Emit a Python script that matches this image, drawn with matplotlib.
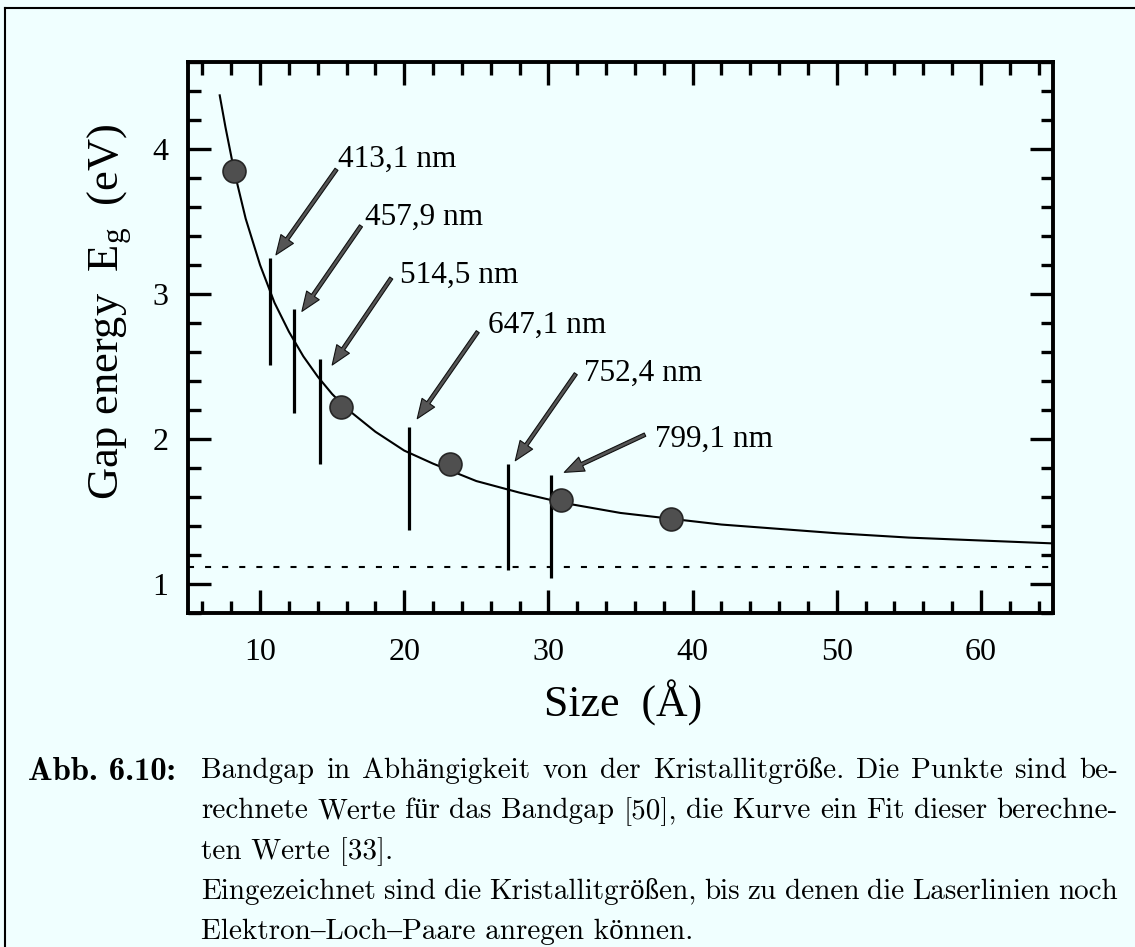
# Band gap vs. crystallite size, with the laser-line cut-offs marked
import matplotlib.pyplot as plt
from matplotlib.lines import Line2D
from matplotlib.ticker import MultipleLocator

# --- data ---
# calculated band gap points
size_pts = [8.2, 15.6, 23.2, 30.9, 38.5]
eg_pts = [3.85, 2.22, 1.83, 1.58, 1.45]

# fit curve through the calculated points
fit_size = [7.2, 7.6, 8.2, 9, 10, 11, 12, 13, 14, 15, 16, 18, 20, 22, 25,
            28, 31, 35, 38.5, 42, 46, 50, 55, 60, 65]
fit_eg = [4.37, 4.15, 3.85, 3.52, 3.20, 2.94, 2.74, 2.57, 2.43, 2.31, 2.21,
          2.05, 1.92, 1.83, 1.71, 1.63, 1.56, 1.49, 1.45, 1.41, 1.38, 1.35,
          1.32, 1.30, 1.28]

# bulk gap (dashed line)
eg_bulk = 1.12

# laser lines: crystallite size limit and vertical marker extent
laser_labels = ["413,1 nm", "457,9 nm", "514,5 nm", "647,1 nm", "752,4 nm", "799,1 nm"]
laser_size = [10.7, 12.35, 14.15, 20.3, 27.2, 30.2]
line_top = [3.25, 2.90, 2.55, 2.08, 1.83, 1.75]
line_bottom = [2.51, 2.18, 1.83, 1.37, 1.10, 1.04]

# arrows (tail -> tip) and label anchors
arrow_tail_x = [15.3, 17.0, 19.1, 25.1, 31.9, 36.7]
arrow_tail_y = [3.86, 3.47, 3.11, 2.74, 2.45, 2.03]
arrow_tip_x = [11.1, 12.9, 15.0, 20.9, 27.7, 31.1]
arrow_tip_y = [3.27, 2.88, 2.51, 2.14, 1.85, 1.77]
label_x = [15.4, 17.3, 19.7, 25.8, 32.5, 37.4]
label_y = [3.95, 3.55, 3.15, 2.81, 2.48, 2.02]

caption_head = "Abb. 6.10:"
caption_lines = [
    "Bandgap in Abhängigkeit von der Kristallitgröße. Die Punkte sind be-",
    "rechnete Werte für das Bandgap [50], die Kurve ein Fit dieser berechne-",
    "ten Werte [33].",
    "Eingezeichnet sind die Kristallitgrößen, bis zu denen die Laserlinien noch",
    "Elektron–Loch–Paare anregen können.",
]
caption_justify = [True, True, False, True, False]

# --- style ---
BG = "#f0ffff"
plt.rcParams.update({
    "font.family": ["Liberation Serif", "DejaVu Serif"],
    "mathtext.fontset": "custom",
    "mathtext.rm": "Liberation Serif",
    "mathtext.it": "Liberation Serif:italic",
})

W, H = 1135, 947
fig = plt.figure(figsize=(W / 100, H / 100), dpi=100, facecolor=BG)
ax = fig.add_axes([188 / W, 1 - 613 / H, 865 / W, 551 / H], facecolor=BG)

# fit curve, points, bulk gap
ax.plot(fit_size, fit_eg, color="black", lw=1.5, zorder=3)
ax.plot(size_pts, eg_pts, "o", ms=16.5, mfc="#4f4f4f", mec="#262626", mew=1.2, zorder=4)
ax.axhline(eg_bulk, color="black", lw=1.5, dashes=(2.9, 5.3), zorder=2)

# laser markers, arrows, labels
ax.vlines(laser_size, line_bottom, line_top, color="black", lw=2.3, zorder=3)
for i in range(len(laser_labels)):
    ax.annotate("", xy=(arrow_tip_x[i], arrow_tip_y[i]),
                xytext=(arrow_tail_x[i], arrow_tail_y[i]),
                arrowprops=dict(facecolor="#555555", edgecolor="#111111", lw=0.8,
                                width=2.6, headwidth=11, headlength=14, shrink=0),
                zorder=5)
    ax.text(label_x[i], label_y[i], laser_labels[i], fontsize=22.5,
            ha="left", va="center_baseline")

ax.set_xlim(5, 65)
ax.set_ylim(0.8, 4.6)
ax.xaxis.set_major_locator(MultipleLocator(10))
ax.xaxis.set_minor_locator(MultipleLocator(2))
ax.yaxis.set_major_locator(MultipleLocator(1))
ax.yaxis.set_minor_locator(MultipleLocator(0.2))
ax.tick_params(which="both", direction="in", top=True, right=True, labelsize=23)
ax.tick_params(which="major", length=16.5, width=2.4)
ax.tick_params(which="minor", length=9, width=2.4)
ax.tick_params(axis="x", pad=18)
ax.tick_params(axis="y", pad=14)
for sp in ax.spines.values():
    sp.set_linewidth(2.8)

fig.text(623 / W, 1 - 703 / H, "Size  (Å)", fontsize=31.5, ha="center", va="center")
fig.text(110 / W, 1 - 312 / H, r"Gap energy  E$_\mathrm{g}$  (eV)", fontsize=32,
         rotation=90, ha="center", va="center")

# outer frame (top and left edge of the scanned page box)
fig.add_artist(Line2D([5 / W, 1], [1 - 8 / H, 1 - 8 / H], color="black", lw=1.5))
fig.add_artist(Line2D([5 / W, 5 / W], [1 - 8 / H, 0], color="black", lw=1.5))

# --- caption ---
cap_font = ["cmr10", "Liberation Serif"]
fig.text(28 / W, 1 - 768 / H, caption_head, fontsize=23.5, family=["cmb10", "Liberation Serif"],
         ha="left", va="center_baseline")
renderer = fig.canvas.get_renderer()
left_px, right_px = 201, 1118
for k, line in enumerate(caption_lines):
    y = 1 - (768 + 40.3 * k) / H
    if not caption_justify[k]:
        fig.text(left_px / W, y, line, fontsize=21, family=cap_font,
                 ha="left", va="center_baseline")
        continue
    words = line.split(" ")
    texts = [fig.text(0, y, w, fontsize=21, family=cap_font, ha="left",
                      va="center_baseline") for w in words]
    widths = [t.get_window_extent(renderer).width for t in texts]
    gap = (right_px - left_px - sum(widths)) / (len(words) - 1)
    x = left_px
    for t, w in zip(texts, widths):
        t.set_x(x / W)
        x += w + gap

fig.savefig("out.png", dpi=100, facecolor=BG)
